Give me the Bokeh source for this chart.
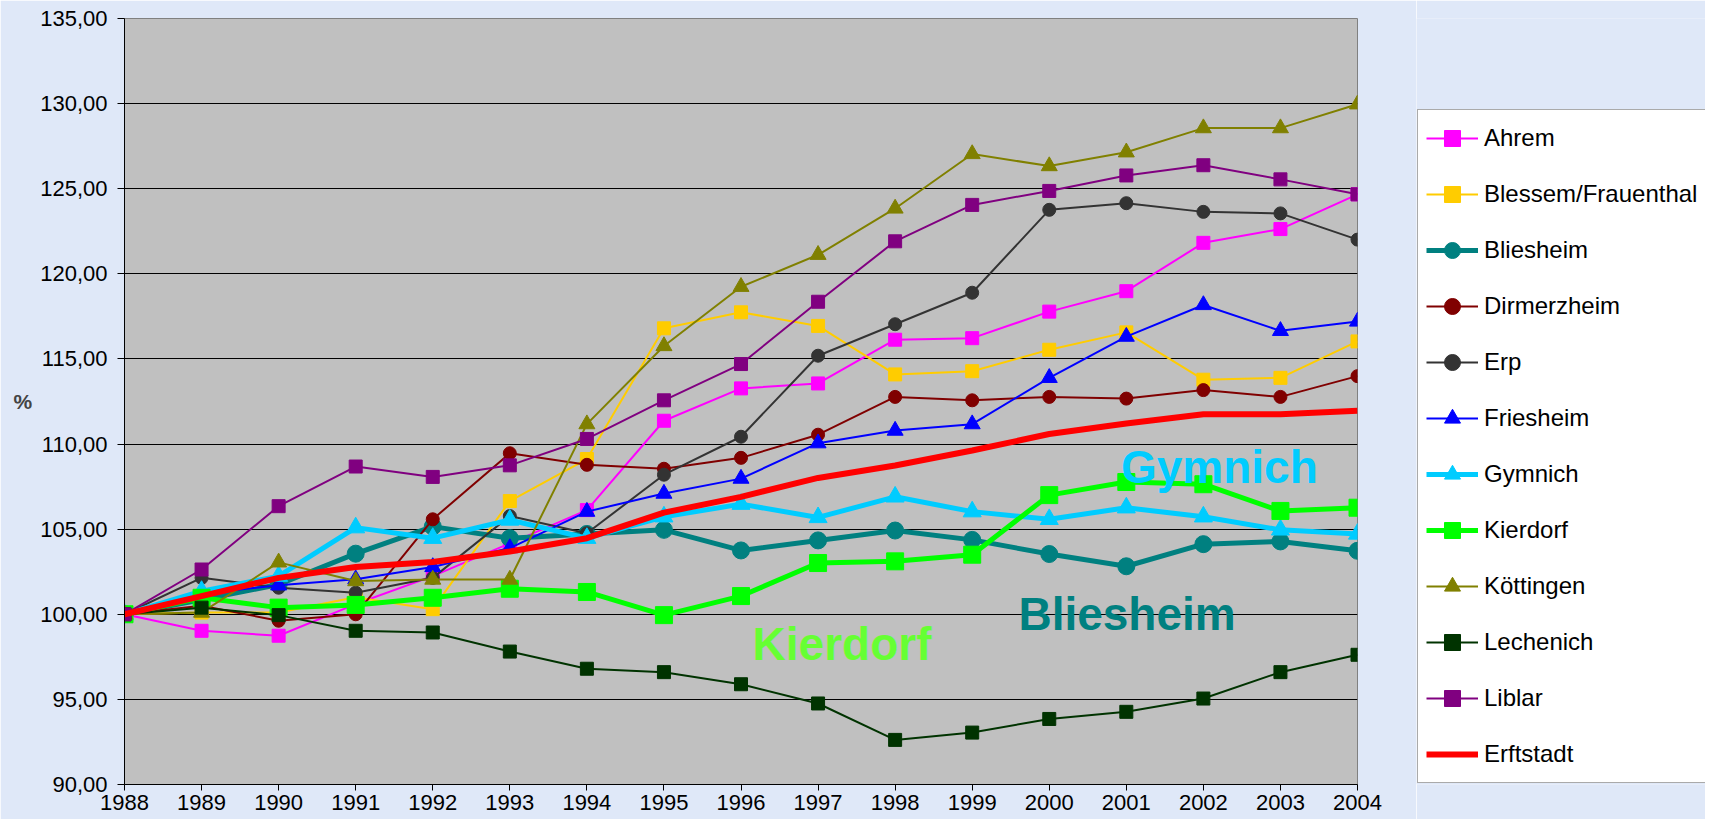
from bokeh.plotting import figure
from bokeh.models import Legend, LegendItem, Label, FixedTicker
from bokeh.layouts import row
from bokeh.embed import file_html
from bokeh.resources import INLINE

years = list(range(1988, 2005))

ahrem = [100, 99.03, 98.74, 100.6, 102.24, 104.17, 106.12, 111.37, 113.27, 113.56, 116.13, 116.22, 117.78, 118.98, 121.82, 122.63, 124.67]
blessem = [100, 100.1, 100.1, 101.0, 100.3, 106.65, 109.12, 116.8, 117.74, 116.94, 114.09, 114.28, 115.54, 116.56, 113.78, 113.89, 116.03]
bliesheim = [100, 100.85, 101.75, 103.56, 105.15, 104.47, 104.72, 104.96, 103.75, 104.34, 104.92, 104.37, 103.54, 102.82, 104.12, 104.28, 103.73]
dirmerzheim = [100, 100.5, 99.62, 100.0, 105.58, 109.46, 108.78, 108.55, 109.19, 110.55, 112.77, 112.57, 112.77, 112.67, 113.17, 112.77, 113.99]
erp = [100, 102.14, 101.56, 101.27, 102.14, 105.77, 104.76, 108.2, 110.43, 115.19, 117.04, 118.89, 123.76, 124.15, 123.64, 123.55, 122.01]
friesheim = [100, 101.2, 101.7, 102.06, 102.78, 103.89, 106.03, 107.09, 107.97, 110.05, 110.79, 111.17, 113.89, 116.31, 118.17, 116.65, 117.2]
gymnich = [100, 101.36, 102.24, 105.09, 104.47, 105.54, 104.47, 105.73, 106.47, 105.69, 106.9, 106.03, 105.58, 106.26, 105.73, 104.96, 104.72]
kierdorf = [100, 100.97, 100.39, 100.55, 100.97, 101.5, 101.31, 99.95, 101.07, 103.01, 103.11, 103.5, 107.0, 107.77, 107.64, 106.07, 106.26]
koettingen = [100, 100.1, 103.05, 101.95, 102.04, 102.04, 111.17, 115.76, 119.24, 121.12, 123.84, 127.04, 126.33, 127.14, 128.56, 128.56, 129.96]
lechenich = [100, 100.39, 99.95, 99.03, 98.93, 97.81, 96.8, 96.6, 95.89, 94.76, 92.62, 93.05, 93.85, 94.27, 95.05, 96.6, 97.62]
liblar = [100, 102.63, 106.35, 108.68, 108.07, 108.75, 110.3, 112.57, 114.7, 118.36, 121.91, 124.05, 124.87, 125.78, 126.38, 125.55, 124.67]
erftstadt = [100, 101.07, 102.14, 102.78, 103.07, 103.69, 104.47, 105.97, 106.9, 108.01, 108.74, 109.62, 110.59, 111.21, 111.75, 111.75, 111.95]

names = ["Ahrem", "Blessem/Frauenthal", "Bliesheim", "Dirmerzheim", "Erp", "Friesheim",
         "Gymnich", "Kierdorf", "Köttingen", "Lechenich", "Liblar", "Erftstadt"]
series = [ahrem, blessem, bliesheim, dirmerzheim, erp, friesheim,
          gymnich, kierdorf, koettingen, lechenich, liblar, erftstadt]
colors = ["#FF00FF", "#FFCC00", "#008080", "#800000", "#333333", "#0000FF",
          "#00CCFF", "#00FF00", "#808000", "#003300", "#800080", "#FF0000"]
markers = ["square", "square", "circle", "circle", "circle", "triangle",
           "triangle", "square", "triangle", "square", "square", None]
thick = [False, False, True, False, False, False, True, True, False, False, False, True]

y_ticks = [90, 95, 100, 105, 110, 115, 120, 125, 130, 135]
y_labels = ["90,00", "95,00", "100,00", "105,00", "110,00", "115,00", "120,00", "125,00", "130,00", "135,00"]

annotations = [("Gymnich", 2000.93, 108.65, "#00CCFF"),
               ("Bliesheim", 1999.60, 100.02, "#008080"),
               ("Kierdorf", 1996.15, 98.28, "#66FF33")]

FONT = "Liberation Sans"
BG = "#DFE8F8"
TOP, BOTTOM = 18, 35


def draw_series(fig):
    out = []
    for name, ys, c, m, t in zip(names, series, colors, markers, thick):
        lw = 5 if t else 2
        if name == "Erftstadt":
            lw = 6
        rs = [fig.line(years, ys, line_color=c, line_width=lw)]
        if m is not None:
            if m == "triangle":
                sz = 18 if t else 16
            else:
                sz = 17 if t else 13
            rs.append(fig.scatter(years, ys, marker=m, size=sz, fill_color=c, line_color=c))
        out.append((name, rs))
    return out


p = figure(width=1416, height=819, x_range=(1988, 2004), y_range=(90, 135),
           output_backend="svg", toolbar_location=None,
           min_border_left=124, min_border_right=59, min_border_top=TOP, min_border_bottom=BOTTOM)
p.background_fill_color = "#C0C0C0"
p.border_fill_color = BG
p.outline_line_color = "#808080"
p.outline_line_width = 1

p.xgrid.visible = False
p.ygrid.grid_line_color = "#000000"
p.ygrid.grid_line_width = 1

p.yaxis.ticker = FixedTicker(ticks=y_ticks)
p.yaxis.major_label_overrides = {t: l for t, l in zip(y_ticks, y_labels)}
p.xaxis.ticker = FixedTicker(ticks=years)
for ax in (p.xaxis, p.yaxis):
    ax.axis_line_color = "#000000"
    ax.axis_line_width = 1
    ax.major_tick_line_color = "#000000"
    ax.major_tick_out = 7
    ax.major_tick_in = 0
    ax.minor_tick_line_color = None
    ax.major_label_text_font = FONT
    ax.major_label_text_font_size = "22px"
    ax.major_label_text_color = "#000000"
p.yaxis.major_label_standoff = 10
p.xaxis.major_tick_out = 6
p.xaxis.major_label_standoff = 4
p.yaxis.axis_label = "%"
p.yaxis.axis_label_orientation = "horizontal"
p.yaxis.axis_label_text_font = FONT
p.yaxis.axis_label_text_font_size = "21px"
p.yaxis.axis_label_text_font_style = "bold"
p.yaxis.axis_label_standoff = 5

draw_series(p)

for txt, x, y, c in annotations:
    p.add_layout(Label(x=x, y=y, text=txt, text_color=c, text_font=FONT,
                       text_font_size="46px", text_font_style="bold",
                       text_baseline="alphabetic", text_align="left"))

# legend panel: a second figure (same frame top/bottom) holding only the legend
lf = figure(width=289, height=819, x_range=(0, 1), y_range=(0, 1),
            output_backend="svg", toolbar_location=None,
            x_axis_location=None, y_axis_location=None,
            min_border_left=0, min_border_right=0, min_border_top=TOP, min_border_bottom=BOTTOM)
lf.grid.visible = False
lf.background_fill_color = BG
lf.border_fill_color = BG
lf.outline_line_color = None
leg_items = [LegendItem(label=n, renderers=rs) for n, rs in draw_series(lf)]

legend = Legend(items=leg_items, location=(1, 1))
legend.margin = 0
legend.padding = 8
legend.spacing = 16
legend.glyph_width = 52
legend.glyph_height = 40
legend.label_height = 40
legend.label_standoff = 6
legend.label_text_font = FONT
legend.label_text_font_size = "24px"
legend.label_text_color = "#000000"
legend.border_line_color = "#555555"
legend.border_line_width = 1
legend.background_fill_color = "#FFFFFF"
legend.background_fill_alpha = 1
lf.add_layout(legend)

open("out.html", "w").write(file_html(row(p, lf), INLINE))
